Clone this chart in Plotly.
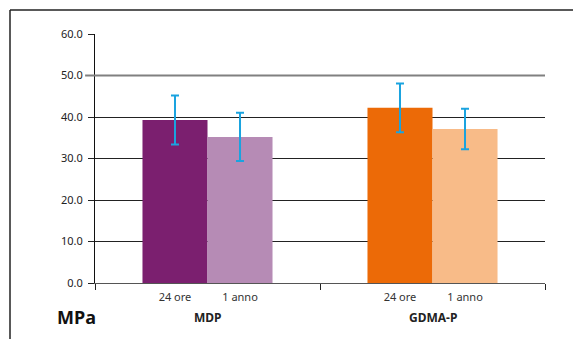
import plotly.graph_objects as go

groups = ["MDP", "GDMA-P"]
series = ["24 ore", "1 anno"]
values_24 = [39.3, 42.2]
errors_24 = [5.9, 5.9]
values_1a = [35.2, 37.1]
errors_1a = [5.8, 4.9]
colors_24 = ["#7b1f6f", "#ec6a07"]
colors_1a = ["#b68bb5", "#f8bb88"]
y_ticks = [0, 10, 20, 30, 40, 50, 60]

bar_w = 0.289
xpos = list(range(len(groups)))

fig = go.Figure()
err_style = dict(type="data", color="#1aa3df", thickness=2, width=4)
fig.add_trace(go.Bar(x=xpos, y=values_24, name=series[0], marker_color=colors_24,
                     marker_line_width=0, width=bar_w, offset=-bar_w,
                     error_y=dict(array=errors_24, **err_style)))
fig.add_trace(go.Bar(x=xpos, y=values_1a, name=series[1], marker_color=colors_1a,
                     marker_line_width=0, width=bar_w, offset=0,
                     error_y=dict(array=errors_1a, **err_style)))

tickvals, ticktext = [], []
for i in xpos:
    tickvals += [i - bar_w / 2, i + bar_w / 2]
    ticktext += series

fig.update_layout(
    width=573, height=331,
    margin=dict(l=87, r=36, t=26, b=56),
    paper_bgcolor="white", plot_bgcolor="white",
    showlegend=False,
    font=dict(family="Noto Sans", size=11, color="#222"),
    xaxis=dict(range=[-0.5, 1.5], tickvals=tickvals, ticktext=ticktext,
               ticks="", showgrid=False, zeroline=False,
               showline=True, linecolor="#555", linewidth=1,
               ticklabelstandoff=4,
               tickfont=dict(size=11, color="#333"),
               minor=dict(tick0=-0.5, dtick=1, ticks="outside", ticklen=6,
                          tickcolor="#222", showgrid=False)),
    yaxis=dict(range=[0, 60], tickvals=y_ticks,
               ticktext=[f"{v:.1f}" for v in y_ticks],
               ticks="outside", ticklen=6, tickcolor="#222",
               ticklabelstandoff=3,
               showgrid=True, gridcolor="#222", gridwidth=1,
               zeroline=False, showline=True, linecolor="#111", linewidth=1,
               tickfont=dict(size=11, color="#222")),
)

# group labels under the ticks
for i, g in zip(xpos, groups):
    fig.add_annotation(x=i, y=-0.14, xref="x", yref="paper", text=f"<b>{g}</b>",
                       showarrow=False, font=dict(size=12, color="#222"),
                       yanchor="middle")
fig.add_annotation(x=-0.042, y=-0.135, xref="paper", yref="paper", text="<b>MPa</b>",
                   showarrow=False, font=dict(size=18, color="#111"),
                   xanchor="center", yanchor="middle")

# gray line at 50
fig.add_shape(type="line", xref="paper", yref="y", x0=-0.022, x1=1, y0=50, y1=50,
              line=dict(color="#808080", width=2))

# outer frame (top + left)
fx = (10 - 95) / 450
fy = (283 - 10) / 249
fig.add_shape(type="line", xref="paper", yref="paper", x0=fx, x1=1.1, y0=fy, y1=fy,
              line=dict(color="#222", width=1.5))
fig.add_shape(type="line", xref="paper", yref="paper", x0=fx, x1=fx, y0=fy, y1=-0.3,
              line=dict(color="#222", width=1.5))

fig.write_html("out.html")
